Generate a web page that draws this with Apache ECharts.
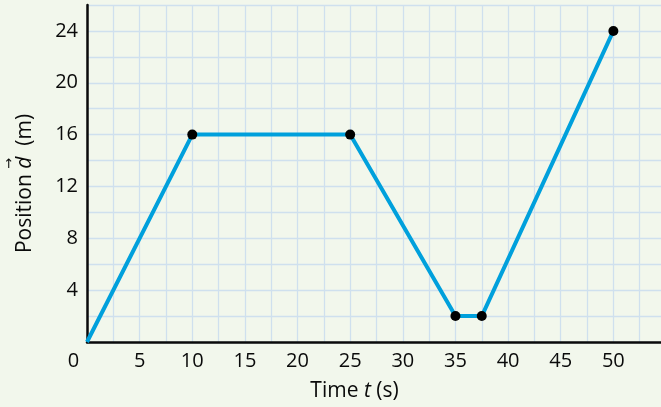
<!DOCTYPE html>
<html>
<head>
<meta charset="utf-8">
<script src="https://cdn.jsdelivr.net/npm/echarts@6/dist/echarts.min.js"></script>
<style>
  html, body { margin: 0; padding: 0; background: #f2f7ec; overflow: hidden; }
  #chart { width: 666px; height: 407px; }
</style>
</head>
<body>
<div id="chart"></div>
<script>
// Position vs. time: vertices of the piecewise-linear path
const times = [0, 10, 25, 35, 37.5, 50];
const positions = [0, 16, 16, 2, 2, 24];
// Which vertices get a black dot (the origin has none)
const dotted = [false, true, true, true, true, true];

const xTickStep = 2.5, xLabelStep = 5, xMax = 55;
const yTickStep = 2, yLabelStep = 4, yMax = 26;

const FONT = 'Open Sans';
const FS = 20;       // tick labels
const NFS = 21;      // axis titles
const INK = '#0a0a0a';
const points = times.map((t, i) => ({
  value: [t, positions[i]],
  symbolSize: dotted[i] ? 10 : 0
}));

const chart = echarts.init(document.getElementById('chart'), null, { renderer: 'canvas' });
chart.setOption({
  backgroundColor: '#f2f7ec',
  animation: false,
  grid: { left: 87, right: 0, top: 5, bottom: 64 },
  xAxis: {
    type: 'value', min: 0, max: xMax, interval: xTickStep,
    axisLine: { show: true, onZero: false, lineStyle: { color: INK, width: 2.5 } },
    axisTick: { show: false },
    splitLine: { show: true, lineStyle: { color: '#cfe0ee', width: 1.3 } },
    axisLabel: {
      margin: 9, color: INK, fontFamily: FONT, fontSize: FS,
      showMaxLabel: false,
      formatter: v => {
        if (v === 0) return '{z|0}';
        return (v % xLabelStep === 0) ? String(v) : '';
      },
      rich: { z: { fontFamily: FONT, fontSize: FS, color: INK, padding: [0, 27, 0, 0] } }
    },
    name: '{n|Time }{i|t}{n| (s)}',
    nameLocation: 'middle', nameGap: 39,
    nameTextStyle: {
      padding: [0, 44, 0, 0],
      rich: {
        n: { fontFamily: FONT, fontSize: NFS, color: INK },
        i: { fontFamily: FONT, fontSize: NFS, color: INK, fontStyle: 'italic' }
      }
    }
  },
  yAxis: {
    type: 'value', min: 0, max: yMax, interval: yTickStep,
    axisLine: { show: true, onZero: false, lineStyle: { color: INK, width: 2.5 } },
    axisTick: { show: false },
    splitLine: { show: true, lineStyle: { color: '#cfe0ee', width: 1.3 } },
    axisLabel: {
      margin: 9, color: INK, fontFamily: FONT, fontSize: FS,
      formatter: v => (v > 0 && v % yLabelStep === 0) ? String(v) : ''
    },
    name: '{n|Position }{i|d}{n|  (m)}',
    nameLocation: 'middle', nameGap: 51, nameRotate: 90,
    nameTextStyle: {
      padding: [0, 20, 0, 0],
      rich: {
        n: { fontFamily: FONT, fontSize: NFS, color: INK },
        i: { fontFamily: FONT, fontSize: NFS, color: INK, fontStyle: 'italic' }
      }
    }
  },
  // vector arrow over the d in the y-axis title
  graphic: [{
    type: 'text', left: 3, top: 158,
    style: { text: '\u2192', font: '13px "DejaVu Sans"', fill: INK },
    rotation: Math.PI / 2
  }],
  series: [{
    type: 'line',
    data: points,
    symbol: 'circle',
    showAllSymbol: true,
    lineStyle: { color: '#00a0dc', width: 4 },
    itemStyle: { color: '#000' },
    z: 5
  }]
});
</script>
</body>
</html>
